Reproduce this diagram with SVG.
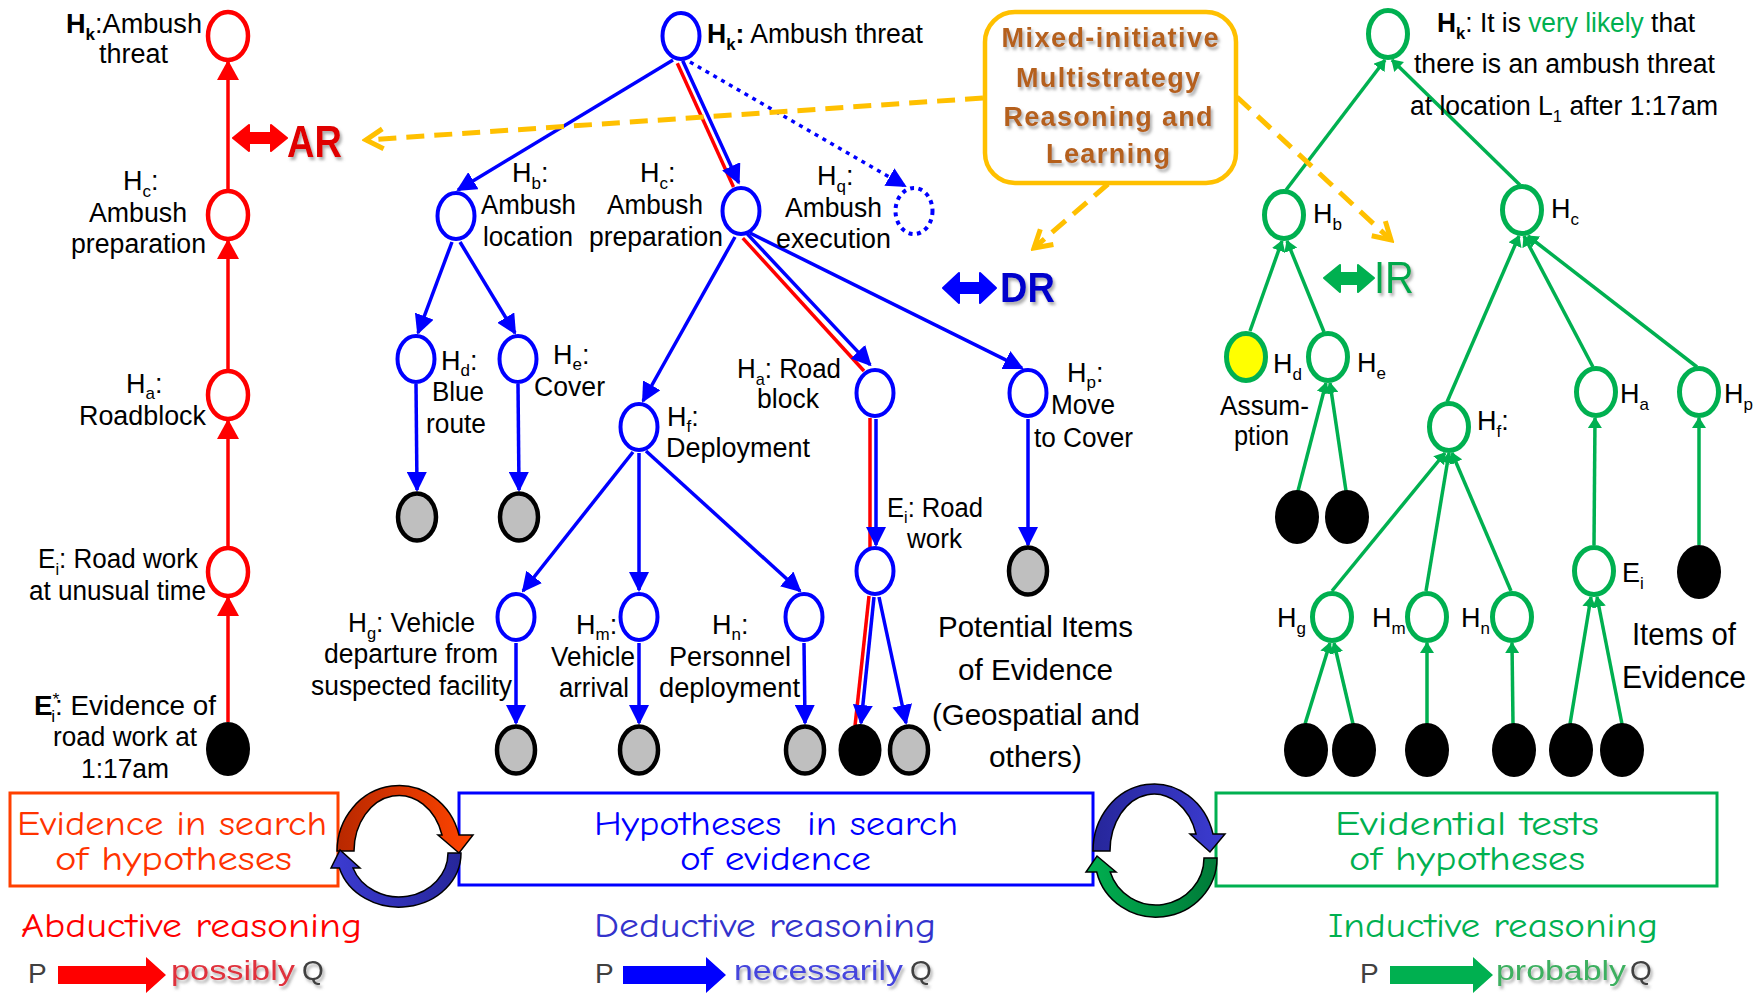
<svg xmlns="http://www.w3.org/2000/svg" width="1758" height="993" viewBox="0 0 1758 993">
<defs>
<style>
.t{font-family:"Liberation Sans",Arial,sans-serif;font-size:27px;fill:#000}
.s{font-size:17px}
.b{font-weight:bold}
.rn{fill:#fff;stroke:#f00;stroke-width:4.5}
.bn{fill:#fff;stroke:#00f;stroke-width:4}
.gn{fill:#fff;stroke:#00b050;stroke-width:5}
.gy{fill:#bfbfbf;stroke:#000;stroke-width:4.5}
.bk{fill:#000}
.re{stroke:#f00;stroke-width:3.5;fill:none}
.be{stroke:#00f;stroke-width:3.5;fill:none}
.ge{stroke:#00b050;stroke-width:3.5;fill:none}
.ye{stroke:#ffc000;stroke-width:5;fill:none;stroke-dasharray:18 10}
.c{font-family:"Comic Sans MS","Comic Neue",Lato,sans-serif;font-size:34px}
.box{fill:#fff;stroke-width:3}
.arc{stroke:#000;stroke-width:1.5}
.pq{font-family:"Liberation Sans",Arial,sans-serif;font-size:28px;fill:#404040}
</style>
<marker id="mb" markerUnits="userSpaceOnUse" viewBox="0 0 20 20" refX="18" refY="10" markerWidth="20" markerHeight="20" orient="auto"><path d="M0,0 L20,10 L0,20 Z" fill="#00f"/></marker>
<marker id="mr" markerUnits="userSpaceOnUse" viewBox="0 0 20 22" refX="18" refY="11" markerWidth="20" markerHeight="22" orient="auto"><path d="M0,0 L20,11 L0,22 Z" fill="#f00"/></marker>
<marker id="mg" markerUnits="userSpaceOnUse" viewBox="0 0 11 14" refX="10" refY="7" markerWidth="11" markerHeight="14" orient="auto"><path d="M0,0 L11,7 L0,14 Z" fill="#00b050"/></marker>
<marker id="my" markerUnits="userSpaceOnUse" viewBox="-3 -3 24 26" refX="17" refY="10" markerWidth="24" markerHeight="26" orient="auto"><path d="M0,0 L17,10 L0,20" fill="none" stroke="#ffc000" stroke-width="5"/></marker>
<filter id="sh" x="-20%" y="-20%" width="150%" height="160%"><feDropShadow dx="2" dy="3" stdDeviation="1.5" flood-color="#777" flood-opacity="0.6"/></filter>
<linearGradient id="gRed" x1="0" y1="0" x2="1" y2="0"><stop offset="0" stop-color="#b82800"/><stop offset="1" stop-color="#ff4400"/></linearGradient>
<linearGradient id="gBlue" x1="0" y1="0" x2="1" y2="0"><stop offset="0" stop-color="#3c3cd2"/><stop offset="1" stop-color="#26269a"/></linearGradient>
<linearGradient id="gBlue2" x1="0" y1="0" x2="1" y2="0"><stop offset="0" stop-color="#26269a"/><stop offset="1" stop-color="#3c3cd2"/></linearGradient>
<linearGradient id="gGreen" x1="0" y1="0" x2="1" y2="0"><stop offset="0" stop-color="#00b050"/><stop offset="1" stop-color="#007a38"/></linearGradient>
</defs>
<rect width="1758" height="993" fill="#fff"/>

<!-- connectors -->
<g id="connectors">
<!-- red abductive chain -->
<line class="re" x1="228" y1="722" x2="228" y2="598" marker-end="url(#mr)"/>
<line class="re" x1="228" y1="546" x2="228" y2="421" marker-end="url(#mr)"/>
<line class="re" x1="228" y1="369" x2="228" y2="241" marker-end="url(#mr)"/>
<line class="re" x1="228" y1="189" x2="228" y2="62" marker-end="url(#mr)"/>
<!-- blue deductive tree -->
<line class="be" x1="673" y1="60" x2="458" y2="190" marker-end="url(#mb)"/>
<line class="re" x1="677.3" y1="63.3" x2="733.5" y2="187"/>
<line class="be" x1="682.7" y1="60.7" x2="738.7" y2="182.7" marker-end="url(#mb)"/>
<line class="be" x1="690" y1="62" x2="905" y2="186" stroke-dasharray="4 5" marker-end="url(#mb)"/>
<line class="be" x1="452" y1="242" x2="418" y2="333" marker-end="url(#mb)"/>
<line class="be" x1="460" y1="242" x2="515" y2="333" marker-end="url(#mb)"/>
<line class="be" x1="735" y1="237" x2="643" y2="401" marker-end="url(#mb)"/>
<line class="re" x1="742.8" y1="238.1" x2="864" y2="371"/>
<line class="be" x1="747.2" y1="233.9" x2="870.2" y2="364.9" marker-end="url(#mb)"/>
<line class="be" x1="750" y1="233" x2="1022" y2="368" marker-end="url(#mb)"/>
<line class="be" x1="416" y1="384" x2="417" y2="490" marker-end="url(#mb)"/>
<line class="be" x1="518" y1="384" x2="519" y2="490" marker-end="url(#mb)"/>
<line class="be" x1="633" y1="452" x2="523" y2="591" marker-end="url(#mb)"/>
<line class="be" x1="639" y1="453" x2="639" y2="590" marker-end="url(#mb)"/>
<line class="be" x1="646" y1="451" x2="800" y2="591" marker-end="url(#mb)"/>
<line class="be" x1="516" y1="643" x2="516" y2="723" marker-end="url(#mb)"/>
<line class="be" x1="639" y1="643" x2="639" y2="723" marker-end="url(#mb)"/>
<line class="be" x1="804" y1="643" x2="805" y2="723" marker-end="url(#mb)"/>
<line class="re" x1="870" y1="418" x2="870" y2="548"/>
<line class="be" x1="876" y1="419" x2="876" y2="545" marker-end="url(#mb)"/>
<line class="re" x1="869" y1="596" x2="855" y2="726"/>
<line class="be" x1="874" y1="597" x2="861" y2="723" marker-end="url(#mb)"/>
<line class="be" x1="879" y1="597" x2="906" y2="723" marker-end="url(#mb)"/>
<line class="be" x1="1028" y1="419" x2="1028" y2="545" marker-end="url(#mb)"/>
<!-- green inductive tree -->
<line class="ge" x1="1286" y1="190" x2="1385" y2="60" marker-end="url(#mg)"/>
<line class="ge" x1="1520" y1="185" x2="1392" y2="60" marker-end="url(#mg)"/>
<line class="ge" x1="1250" y1="331" x2="1282" y2="241" marker-end="url(#mg)"/>
<line class="ge" x1="1324" y1="332" x2="1287" y2="241" marker-end="url(#mg)"/>
<line class="ge" x1="1447" y1="402" x2="1519" y2="236" marker-end="url(#mg)"/>
<line class="ge" x1="1593" y1="367" x2="1524" y2="236" marker-end="url(#mg)"/>
<line class="ge" x1="1697" y1="367" x2="1528" y2="236" marker-end="url(#mg)"/>
<line class="ge" x1="1298" y1="491" x2="1326" y2="383" marker-end="url(#mg)"/>
<line class="ge" x1="1346" y1="491" x2="1330" y2="383" marker-end="url(#mg)"/>
<line class="ge" x1="1332" y1="591" x2="1445" y2="453" marker-end="url(#mg)"/>
<line class="ge" x1="1426" y1="591" x2="1449" y2="453" marker-end="url(#mg)"/>
<line class="ge" x1="1511" y1="591" x2="1452" y2="453" marker-end="url(#mg)"/>
<line class="ge" x1="1594" y1="545" x2="1595" y2="418" marker-end="url(#mg)"/>
<line class="ge" x1="1699" y1="545" x2="1699" y2="418" marker-end="url(#mg)"/>
<line class="ge" x1="1305" y1="724" x2="1330" y2="643" marker-end="url(#mg)"/>
<line class="ge" x1="1353" y1="724" x2="1334" y2="643" marker-end="url(#mg)"/>
<line class="ge" x1="1427" y1="724" x2="1427" y2="643" marker-end="url(#mg)"/>
<line class="ge" x1="1513" y1="724" x2="1512" y2="643" marker-end="url(#mg)"/>
<line class="ge" x1="1570" y1="724" x2="1591" y2="597" marker-end="url(#mg)"/>
<line class="ge" x1="1622" y1="724" x2="1597" y2="597" marker-end="url(#mg)"/>
</g>

<!-- red abductive nodes -->
<g id="r-hk"><ellipse class="rn" cx="228" cy="36" rx="20" ry="24"/>
<text class="t" x="66" y="33" textLength="136" lengthAdjust="spacingAndGlyphs"><tspan class="b">H</tspan><tspan class="b s" dy="7">k</tspan><tspan dy="-7">:Ambush</tspan></text>
<text class="t" x="99" y="63" textLength="69" lengthAdjust="spacingAndGlyphs">threat</text></g>
<g id="r-hc"><ellipse class="rn" cx="228" cy="215" rx="20" ry="24"/>
<text class="t" x="123" y="190">H<tspan class="s" dy="7">c</tspan><tspan dy="-7">:</tspan></text>
<text class="t" x="89" y="222" textLength="98" lengthAdjust="spacingAndGlyphs">Ambush</text>
<text class="t" x="71" y="253" textLength="135" lengthAdjust="spacingAndGlyphs">preparation</text></g>
<g id="r-ha"><ellipse class="rn" cx="228" cy="395" rx="20" ry="24"/>
<text class="t" x="126" y="393">H<tspan class="s" dy="6">a</tspan><tspan dy="-6">:</tspan></text>
<text class="t" x="79" y="425" textLength="127" lengthAdjust="spacingAndGlyphs">Roadblock</text></g>
<g id="r-ei"><ellipse class="rn" cx="228" cy="572" rx="20" ry="24"/>
<text class="t" x="38" y="568" textLength="160" lengthAdjust="spacingAndGlyphs">E<tspan class="s" dy="7">i</tspan><tspan dy="-7">: Road work</tspan></text>
<text class="t" x="29" y="600" textLength="177" lengthAdjust="spacingAndGlyphs">at unusual time</text></g>
<g id="r-estar"><ellipse class="bk" cx="228" cy="749" rx="22" ry="27"/>
<text class="t" x="34" y="715" textLength="182" lengthAdjust="spacingAndGlyphs"><tspan class="b">E</tspan><tspan class="s" dy="-10">*</tspan><tspan class="s" dx="-8" dy="17">i</tspan><tspan dy="-7">: Evidence of</tspan></text>
<text class="t" x="53" y="746" textLength="144" lengthAdjust="spacingAndGlyphs">road work at</text>
<text class="t" x="81" y="778" textLength="88" lengthAdjust="spacingAndGlyphs">1:17am</text></g>

<!-- blue deductive nodes -->
<g id="b-hk"><ellipse class="bn" cx="681" cy="36" rx="18.5" ry="23"/>
<text class="t" x="707" y="43" textLength="216" lengthAdjust="spacingAndGlyphs"><tspan class="b">H</tspan><tspan class="b s" dy="7">k</tspan><tspan class="b" dy="-7">:</tspan> Ambush threat</text></g>
<g id="b-hb"><ellipse class="bn" cx="456" cy="216" rx="18.5" ry="23"/>
<text class="t" x="512" y="182">H<tspan class="s" dy="7">b</tspan><tspan dy="-7">:</tspan></text>
<text class="t" x="481" y="214" textLength="95" lengthAdjust="spacingAndGlyphs">Ambush</text>
<text class="t" x="483" y="246" textLength="90" lengthAdjust="spacingAndGlyphs">location</text></g>
<g id="b-hc"><ellipse class="bn" cx="741" cy="211" rx="18.5" ry="23"/>
<text class="t" x="640" y="182">H<tspan class="s" dy="7">c</tspan><tspan dy="-7">:</tspan></text>
<text class="t" x="607" y="214" textLength="96" lengthAdjust="spacingAndGlyphs">Ambush</text>
<text class="t" x="589" y="246" textLength="134" lengthAdjust="spacingAndGlyphs">preparation</text></g>
<g id="b-hq"><ellipse class="bn" cx="914" cy="211" rx="18.5" ry="23" stroke-dasharray="4 4.5"/>
<text class="t" x="817" y="185">H<tspan class="s" dy="7">q</tspan><tspan dy="-7">:</tspan></text>
<text class="t" x="785" y="217" textLength="97" lengthAdjust="spacingAndGlyphs">Ambush</text>
<text class="t" x="776" y="248" textLength="115" lengthAdjust="spacingAndGlyphs">execution</text></g>
<g id="b-hd"><ellipse class="bn" cx="416" cy="359" rx="18.5" ry="23"/>
<text class="t" x="441" y="370">H<tspan class="s" dy="6">d</tspan><tspan dy="-6">:</tspan></text>
<text class="t" x="432" y="401" textLength="52" lengthAdjust="spacingAndGlyphs">Blue</text>
<text class="t" x="426" y="433" textLength="60" lengthAdjust="spacingAndGlyphs">route</text></g>
<g id="b-he"><ellipse class="bn" cx="518" cy="359" rx="18.5" ry="23"/>
<text class="t" x="553" y="364">H<tspan class="s" dy="6">e</tspan><tspan dy="-6">:</tspan></text>
<text class="t" x="534" y="396" textLength="71" lengthAdjust="spacingAndGlyphs">Cover</text></g>
<g id="b-ha"><ellipse class="bn" cx="875" cy="393" rx="18.5" ry="23"/>
<text class="t" x="737" y="378" textLength="104" lengthAdjust="spacingAndGlyphs">H<tspan class="s" dy="7">a</tspan><tspan dy="-7">: Road</tspan></text>
<text class="t" x="757" y="408" textLength="62" lengthAdjust="spacingAndGlyphs">block</text></g>
<g id="b-hf"><ellipse class="bn" cx="639" cy="427" rx="18.5" ry="23"/>
<text class="t" x="667" y="426">H<tspan class="s" dy="6">f</tspan><tspan dy="-6">:</tspan></text>
<text class="t" x="666" y="457" textLength="144" lengthAdjust="spacingAndGlyphs">Deployment</text></g>
<g id="b-hp"><ellipse class="bn" cx="1028" cy="393" rx="18.5" ry="23"/>
<text class="t" x="1067" y="382">H<tspan class="s" dy="6">p</tspan><tspan dy="-6">:</tspan></text>
<text class="t" x="1051" y="414" textLength="64" lengthAdjust="spacingAndGlyphs">Move</text>
<text class="t" x="1034" y="447" textLength="99" lengthAdjust="spacingAndGlyphs">to Cover</text></g>
<g id="b-hg"><ellipse class="bn" cx="516" cy="617" rx="18.5" ry="23"/>
<text class="t" x="348" y="632" textLength="127" lengthAdjust="spacingAndGlyphs">H<tspan class="s" dy="7">g</tspan><tspan dy="-7">: Vehicle</tspan></text>
<text class="t" x="324" y="663" textLength="174" lengthAdjust="spacingAndGlyphs">departure from</text>
<text class="t" x="311" y="695" textLength="201" lengthAdjust="spacingAndGlyphs">suspected facility</text></g>
<g id="b-hm"><ellipse class="bn" cx="639" cy="617" rx="18.5" ry="23"/>
<text class="t" x="576" y="634">H<tspan class="s" dy="6">m</tspan><tspan dy="-6">:</tspan></text>
<text class="t" x="551" y="666" textLength="84" lengthAdjust="spacingAndGlyphs">Vehicle</text>
<text class="t" x="559" y="697" textLength="70" lengthAdjust="spacingAndGlyphs">arrival</text></g>
<g id="b-hn"><ellipse class="bn" cx="804" cy="617" rx="18.5" ry="23"/>
<text class="t" x="712" y="634">H<tspan class="s" dy="6">n</tspan><tspan dy="-6">:</tspan></text>
<text class="t" x="669" y="666" textLength="122" lengthAdjust="spacingAndGlyphs">Personnel</text>
<text class="t" x="659" y="697" textLength="141" lengthAdjust="spacingAndGlyphs">deployment</text></g>
<g id="b-ei"><ellipse class="bn" cx="875" cy="571" rx="18.5" ry="23"/>
<text class="t" x="887" y="517" textLength="96" lengthAdjust="spacingAndGlyphs">E<tspan class="s" dy="6">i</tspan><tspan dy="-6">: Road</tspan></text>
<text class="t" x="907" y="548" textLength="55" lengthAdjust="spacingAndGlyphs">work</text></g>
<g id="b-evidence">
<ellipse class="gy" cx="417" cy="517" rx="19" ry="23.5"/>
<ellipse class="gy" cx="519" cy="517" rx="19" ry="23.5"/>
<ellipse class="gy" cx="1028" cy="571" rx="19" ry="23.5"/>
<ellipse class="gy" cx="516" cy="750" rx="19" ry="23.5"/>
<ellipse class="gy" cx="639" cy="750" rx="19" ry="23.5"/>
<ellipse class="gy" cx="805" cy="750" rx="19" ry="23.5"/>
<ellipse class="bk" cx="860" cy="750" rx="21.5" ry="26"/>
<ellipse class="gy" cx="909" cy="750" rx="19" ry="23.5"/>
<text class="t" x="938" y="637" textLength="195" lengthAdjust="spacingAndGlyphs" style="font-size:30px">Potential Items</text>
<text class="t" x="958" y="680" textLength="155" lengthAdjust="spacingAndGlyphs" style="font-size:30px">of Evidence</text>
<text class="t" x="932" y="725" textLength="208" lengthAdjust="spacingAndGlyphs" style="font-size:30px">(Geospatial and</text>
<text class="t" x="989" y="767" textLength="93" lengthAdjust="spacingAndGlyphs" style="font-size:30px">others)</text>
</g>

<!-- green inductive nodes -->
<g id="g-hk"><ellipse class="gn" cx="1388" cy="34" rx="19.5" ry="23.5"/>
<text class="t" x="1437" y="32" textLength="258" lengthAdjust="spacingAndGlyphs"><tspan class="b">H</tspan><tspan class="b s" dy="7">k</tspan><tspan dy="-7">: It is </tspan><tspan fill="#00b050">very likely</tspan> that</text>
<text class="t" x="1414" y="73" textLength="301" lengthAdjust="spacingAndGlyphs">there is an ambush threat</text>
<text class="t" x="1410" y="115" textLength="308" lengthAdjust="spacingAndGlyphs">at location L<tspan class="s" dy="7">1</tspan><tspan dy="-7"> after 1:17am</tspan></text></g>
<g id="g-hb"><ellipse class="gn" cx="1284" cy="215" rx="19.5" ry="23.5"/>
<text class="t" x="1313" y="223">H<tspan class="s" dy="7">b</tspan></text></g>
<g id="g-hc"><ellipse class="gn" cx="1522" cy="210" rx="19.5" ry="23.5"/>
<text class="t" x="1551" y="218">H<tspan class="s" dy="7">c</tspan></text></g>
<g id="g-hd"><ellipse class="gn" cx="1246" cy="357" rx="19.5" ry="23.5" style="fill:#ffff00"/>
<text class="t" x="1273" y="373">H<tspan class="s" dy="7">d</tspan></text>
<text class="t" x="1220" y="415" textLength="89" lengthAdjust="spacingAndGlyphs">Assum-</text>
<text class="t" x="1234" y="445" textLength="55" lengthAdjust="spacingAndGlyphs">ption</text></g>
<g id="g-he"><ellipse class="gn" cx="1328" cy="357" rx="19.5" ry="23.5"/>
<text class="t" x="1357" y="372">H<tspan class="s" dy="7">e</tspan></text></g>
<g id="g-hf"><ellipse class="gn" cx="1449" cy="427" rx="19.5" ry="23.5"/>
<text class="t" x="1477" y="430">H<tspan class="s" dy="7">f</tspan><tspan dy="-7">:</tspan></text></g>
<g id="g-ha"><ellipse class="gn" cx="1596" cy="392" rx="19.5" ry="23.5"/>
<text class="t" x="1620" y="403">H<tspan class="s" dy="7">a</tspan></text></g>
<g id="g-hp"><ellipse class="gn" cx="1699" cy="392" rx="19.5" ry="23.5"/>
<text class="t" x="1724" y="403">H<tspan class="s" dy="7">p</tspan></text></g>
<g id="g-ei"><ellipse class="gn" cx="1594" cy="571" rx="19.5" ry="23.5"/>
<text class="t" x="1622" y="582">E<tspan class="s" dy="7">i</tspan></text></g>
<g id="g-hg"><ellipse class="gn" cx="1332" cy="617" rx="19.5" ry="23.5"/>
<text class="t" x="1277" y="627">H<tspan class="s" dy="7">g</tspan></text></g>
<g id="g-hm"><ellipse class="gn" cx="1427" cy="617" rx="19.5" ry="23.5"/>
<text class="t" x="1372" y="627">H<tspan class="s" dy="7">m</tspan></text></g>
<g id="g-hn"><ellipse class="gn" cx="1512" cy="617" rx="19.5" ry="23.5"/>
<text class="t" x="1461" y="627">H<tspan class="s" dy="7">n</tspan></text></g>
<g id="g-evidence">
<ellipse class="bk" cx="1297" cy="517" rx="22" ry="27"/>
<ellipse class="bk" cx="1347" cy="517" rx="22" ry="27"/>
<ellipse class="bk" cx="1699" cy="572" rx="22" ry="27"/>
<ellipse class="bk" cx="1306" cy="750" rx="22" ry="27"/>
<ellipse class="bk" cx="1354" cy="750" rx="22" ry="27"/>
<ellipse class="bk" cx="1427" cy="750" rx="22" ry="27"/>
<ellipse class="bk" cx="1514" cy="750" rx="22" ry="27"/>
<ellipse class="bk" cx="1571" cy="750" rx="22" ry="27"/>
<ellipse class="bk" cx="1622" cy="750" rx="22" ry="27"/>
<text class="t" x="1632" y="645" textLength="104" lengthAdjust="spacingAndGlyphs" style="font-size:31px">Items of</text>
<text class="t" x="1622" y="688" textLength="124" lengthAdjust="spacingAndGlyphs" style="font-size:31px">Evidence</text>
</g>

<!-- mixed-initiative box and dashed links -->
<g id="annotations">
<line class="ye" x1="983" y1="98" x2="366" y2="140" marker-end="url(#my)"/>
<line class="ye" x1="1108" y1="184" x2="1034" y2="248" marker-end="url(#my)"/>
<line class="ye" x1="1237" y1="97" x2="1391" y2="240" marker-end="url(#my)"/>
</g>
<g id="mixed-box">
<rect x="985" y="12" width="251" height="171" rx="30" fill="#fff" stroke="#ffc000" stroke-width="4.5"/>
<g font-family="Liberation Sans, Arial, sans-serif" font-weight="bold" font-size="27" fill="#b5601e" text-anchor="middle" filter="url(#sh)">
<text x="1110" y="47" textLength="217" lengthAdjust="spacing">Mixed-initiative</text>
<text x="1108" y="87" textLength="184" lengthAdjust="spacing">Multistrategy</text>
<text x="1108" y="126" textLength="209" lengthAdjust="spacing">Reasoning and</text>
<text x="1108" y="163" textLength="124" lengthAdjust="spacing">Learning</text>
</g></g>

<g id="ar-label">
<polygon points="233,138 249,125 249,133 271,133 271,125 287,138 271,151 271,143 249,143 249,151" fill="#f00" stroke="#f00" stroke-width="2" stroke-linejoin="round"/>
<text x="287" y="157" font-family="Liberation Sans, Arial, sans-serif" font-weight="bold" font-size="44" fill="#e00000" textLength="55" lengthAdjust="spacingAndGlyphs" filter="url(#sh)">AR</text>
</g>
<g id="dr-label">
<polygon points="943,288 959,273 959,283 980,283 980,273 996,288 980,303 980,293 959,293 959,303" fill="#00f" stroke="#00f" stroke-width="2" stroke-linejoin="round"/>
<text x="1000" y="302" font-family="Liberation Sans, Arial, sans-serif" font-weight="bold" font-size="42" fill="#0000cc" textLength="55" lengthAdjust="spacingAndGlyphs" filter="url(#sh)">DR</text>
</g>
<g id="ir-label">
<polygon points="1324,278 1340,265 1340,273 1358,273 1358,265 1374,278 1358,292 1358,284 1340,284 1340,292" fill="#00b050" stroke="#00b050" stroke-width="2" stroke-linejoin="round"/>
<text x="1374" y="293" font-family="Liberation Sans, Arial, sans-serif" font-size="44" fill="#00a84c" textLength="40" lengthAdjust="spacingAndGlyphs" filter="url(#sh)">IR</text>
</g>

<!-- bottom boxes -->
<g id="box-abductive">
<rect class="box" x="10" y="793" width="328" height="93" stroke="#ff4000"/>
<text class="c" x="17" y="835" fill="#ff3300" textLength="310" lengthAdjust="spacingAndGlyphs">Evidence in search</text>
<text class="c" x="55" y="870" fill="#ff3300" textLength="237" lengthAdjust="spacingAndGlyphs">of hypotheses</text>
</g>
<g id="box-deductive">
<rect class="box" x="459" y="793" width="634" height="92" stroke="#0000ff"/>
<text class="c" x="594" y="835" fill="#0000ff" textLength="364" lengthAdjust="spacingAndGlyphs" xml:space="preserve">Hypotheses  in search</text>
<text class="c" x="680" y="870" fill="#0000ff" textLength="191" lengthAdjust="spacingAndGlyphs">of evidence</text>
</g>
<g id="box-inductive">
<rect class="box" x="1216" y="793" width="501" height="93" stroke="#00b050"/>
<text class="c" x="1335" y="835" fill="#00b050" textLength="264" lengthAdjust="spacingAndGlyphs">Evidential tests</text>
<text class="c" x="1349" y="870" fill="#00b050" textLength="236" lengthAdjust="spacingAndGlyphs">of hypotheses</text>
</g>

<!-- cycle arrows -->
<g id="cycle-left">
<path class="arc" fill="url(#gRed)" d="M337,851 A62,66 0 0 1 459,835 L473,835 L459,853 L438,835 L442,835 A45,56 0 0 0 354,851 Z"/>
<path class="arc" fill="url(#gBlue)" d="M461,853 A62,54 0 0 1 339.4,868 L331,868 L340,850 L360,868 L353,868 A49,44 0 0 0 448,853 Z"/>
</g>
<g id="cycle-right">
<path class="arc" fill="url(#gBlue2)" d="M1093,851 A61,67 0 0 1 1213,834 L1225,834 L1210,852 L1190,834 L1196,834 A44,57 0 0 0 1110,851 Z"/>
<path class="arc" fill="url(#gGreen)" d="M1217,858 A61,59 0 0 1 1096.7,872 L1086,872 L1097,856 L1116,872 L1110.2,872 A48,47 0 0 0 1204,858 Z"/>
</g>

<!-- reasoning captions -->
<g id="abductive">
<text class="c" x="21" y="937" fill="#ff0000" textLength="341" lengthAdjust="spacingAndGlyphs">Abductive reasoning</text>
<text class="pq" x="28" y="983">P</text>
<polygon points="58,966 146,966 146,957 166,975 146,993 146,984 58,984" fill="#f00"/>
<text class="pq" x="171" y="980" style="fill:#e0303c" textLength="124" lengthAdjust="spacingAndGlyphs" filter="url(#sh)">possibly</text>
<text class="pq" x="302" y="980" filter="url(#sh)">Q</text>
</g>
<g id="deductive">
<text class="c" x="594" y="937" fill="#3333cc" textLength="342" lengthAdjust="spacingAndGlyphs">Deductive reasoning</text>
<text class="pq" x="595" y="983">P</text>
<polygon points="623,966 706,966 706,957 726,975 706,993 706,984 623,984" fill="#00f"/>
<text class="pq" x="734" y="980" style="fill:#4444dd" textLength="169" lengthAdjust="spacingAndGlyphs" filter="url(#sh)">necessarily</text>
<text class="pq" x="910" y="980" filter="url(#sh)">Q</text>
</g>
<g id="inductive">
<text class="c" x="1328" y="937" fill="#00b050" textLength="330" lengthAdjust="spacingAndGlyphs">Inductive reasoning</text>
<text class="pq" x="1360" y="983">P</text>
<polygon points="1390,966 1473,966 1473,957 1493,975 1473,993 1473,984 1390,984" fill="#00b050"/>
<text class="pq" x="1496" y="980" style="fill:#3cb060" textLength="130" lengthAdjust="spacingAndGlyphs" filter="url(#sh)">probably</text>
<text class="pq" x="1630" y="980" filter="url(#sh)">Q</text>
</g>
</svg>
